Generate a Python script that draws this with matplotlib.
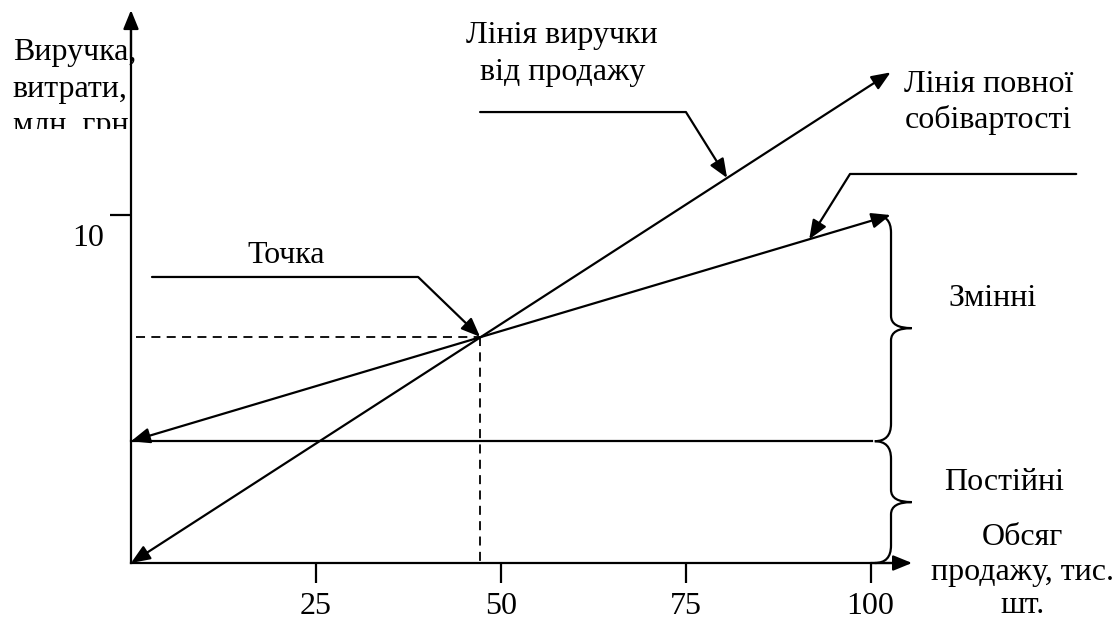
import numpy as np
import matplotlib.pyplot as plt
from matplotlib.path import Path
from matplotlib.patches import PathPatch
from matplotlib.transforms import Bbox, TransformedBbox, ScaledTranslation

plt.rcParams['font.family'] = ['Liberation Serif', 'DejaVu Serif']

# Дані графіка беззбитковості
volume_end = 102.7              # тис. шт., кінець ліній
revenue_line = [0.0, 14.1]      # виручка на початку і в кінці, млн. грн.
cost_line = [3.5, 10.0]         # повна собівартість
fixed_cost = 3.5                # постійні витрати
breakeven = (47.2, 6.5)         # точка беззбитковості
x_ticks = [25, 50, 75, 100]
y_ticks = [10]

FS = 23
LW = 1.6
head = '-|>,head_length=1.15,head_width=0.47'
dhead = '<|-|>,head_length=1.15,head_width=0.47'


def brace(ax, x_spine, y0, y1, hook=2.2, tip=2.8, r_hook=0.5, r_tip=0.35):
    ym = (y0 + y1) / 2
    verts = [(x_spine - hook, y0), (x_spine, y0), (x_spine, y0 + r_hook),
             (x_spine, ym - r_tip), (x_spine, ym), (x_spine + tip, ym),
             (x_spine, ym), (x_spine, ym + r_tip),
             (x_spine, y1 - r_hook), (x_spine, y1), (x_spine - hook, y1)]
    codes = [Path.MOVETO, Path.CURVE3, Path.CURVE3,
             Path.LINETO, Path.CURVE3, Path.CURVE3,
             Path.CURVE3, Path.CURVE3,
             Path.LINETO, Path.CURVE3, Path.CURVE3]
    ax.add_patch(PathPatch(Path(verts, codes), fill=False, lw=LW, color='black'))


def arrow(ax, xy, xytext, style=head, conn='arc3'):
    ax.annotate('', xy=xy, xytext=xytext,
                arrowprops=dict(arrowstyle=style, lw=LW, color='black', shrinkA=0, shrinkB=0,
                                mutation_scale=10, connectionstyle=conn))


fig = plt.figure(figsize=(11.18, 6.24), dpi=100)
ax = fig.add_axes([0, 0, 1, 1])
ax.set_xlim(-17.71, 133.45)
ax.set_ylim(-1.753, 16.18)

for side in ['top', 'right']:
    ax.spines[side].set_visible(False)
ax.spines['left'].set_position(('data', 0))
ax.spines['bottom'].set_position(('data', 0))
ax.spines['left'].set_bounds(0, 15.3)
ax.spines['bottom'].set_bounds(0, 105)
for side in ['left', 'bottom']:
    ax.spines[side].set_linewidth(LW)

# стрілки осей
arrow(ax, (0, 15.89), (0, 14.5))
arrow(ax, (105.6, 0), (100, 0))

ax.set_xticks(x_ticks)
ax.set_xticklabels([str(t) for t in x_ticks])
ax.set_yticks(y_ticks)
ax.set_yticklabels([str(t) for t in y_ticks])
ax.tick_params(axis='x', direction='out', length=14.4, width=LW, pad=6.5, labelsize=FS)
ax.tick_params(axis='y', direction='out', length=15, width=LW, pad=4, labelsize=FS)
for lab in ax.get_yticklabels():
    lab.set_transform(lab.get_transform() + ScaledTranslation(0, -0.2, fig.dpi_scale_trans))

# лінії виручки, повної собівартості та постійних витрат
arrow(ax, (volume_end, revenue_line[1]), (0, revenue_line[0]), style=dhead)
arrow(ax, (volume_end, cost_line[1]), (0, cost_line[0]), style=dhead)
ax.plot([0, volume_end - 2.5], [fixed_cost, fixed_cost], color='black', lw=LW)

ax.plot([0.7, breakeven[0]], [breakeven[1], breakeven[1]], color='black', lw=1.3,
        dashes=(5, 3.5))
ax.plot([breakeven[0], breakeven[0]], [breakeven[1], 0], color='black', lw=1.3,
        dashes=(5, 3.5))

# фігурні дужки
brace(ax, volume_end + 0.06, fixed_cost, cost_line[1])
brace(ax, volume_end + 0.06, 0, fixed_cost)


def on_line(line, x):
    return line[0] + (line[1] - line[0]) * x / volume_end


# виноски
rx = 80.6
arrow(ax, (rx, on_line(revenue_line, rx)), (47.2, 12.96), conn='angle,angleA=0,angleB=122')
cx = 91.7
arrow(ax, (cx, on_line(cost_line, cx)), (127.8, 11.18), conn='angle,angleA=180,angleB=58')
arrow(ax, breakeven, (2.84, 8.22), conn='angle,angleA=0,angleB=136')

# підписи
clip = TransformedBbox(Bbox([[-20, 12.47], [20, 20]]), ax.transData)
for txt, y in [('Виручка,', 14.45), ('витрати,', 13.39), ('млн. грн.', 12.36)]:
    t = ax.text(-15.99, y, txt, fontsize=FS, ha='left', va='baseline')
    t.set_clip_box(clip)
    t.set_clip_on(True)

ax.text(58.3, 14.94, 'Лінія виручки', fontsize=FS, ha='center', va='baseline')
ax.text(58.3, 13.88, 'від продажу', fontsize=FS, ha='center', va='baseline')
ax.text(115.9, 13.53, 'Лінія повної', fontsize=FS, ha='center', va='baseline')
ax.text(115.9, 12.50, 'собівартості', fontsize=FS, ha='center', va='baseline')
ax.text(20.96, 8.62, 'Точка', fontsize=FS, ha='center', va='baseline')
ax.text(116.55, 7.39, 'Змінні', fontsize=FS, ha='center', va='baseline')
ax.text(118.0, 2.10, 'Постійні', fontsize=FS, ha='center', va='baseline')
ax.text(120.5, 0.52, 'Обсяг', fontsize=FS, ha='center', va='baseline')
ax.text(120.5, -0.49, 'продажу, тис.', fontsize=FS, ha='center', va='baseline')
ax.text(120.5, -1.44, 'шт.', fontsize=FS, ha='center', va='baseline')

fig.savefig('out.png', dpi=100)
